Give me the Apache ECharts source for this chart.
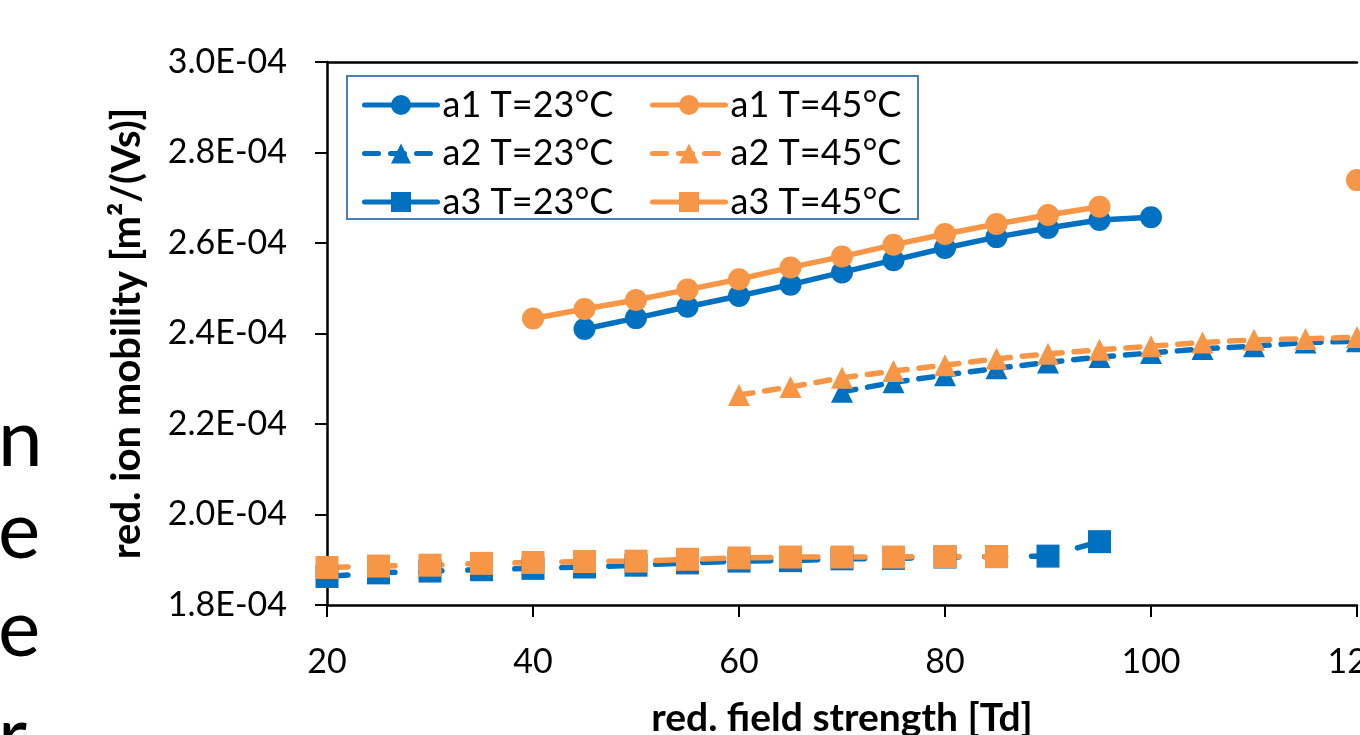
<!DOCTYPE html>
<html>
<head>
<meta charset="utf-8">
<script src="https://cdn.jsdelivr.net/npm/echarts@6/dist/echarts.min.js"></script>
<style>
html,body{margin:0;padding:0;background:#fff;}
#chart{width:1360px;height:735px;}
</style>
</head>
<body>
<div id="chart"></div>
<script>
// Reduced ion mobility values are given in units of 1E-04 m²/(Vs)
const fieldA1_23 = [45,50,55,60,65,70,75,80,85,90,95,100];
const mobA1_23   = [2.410,2.434,2.459,2.483,2.508,2.535,2.562,2.589,2.613,2.633,2.651,2.657];

const fieldA1_45 = [40,45,50,55,60,65,70,75,80,85,90,95,100,105,110,115,120];
const mobA1_45   = [2.433,2.454,2.474,2.497,2.520,2.546,2.570,2.596,2.620,2.642,2.662,2.680,null,null,null,null,2.739];

const fieldA2_23 = [70,75,80,85,90,95,100,105,110,115,120];
const mobA2_23   = [2.271,2.292,2.308,2.323,2.336,2.348,2.357,2.366,2.372,2.380,2.383];

const fieldA2_45 = [60,65,70,75,80,85,90,95,100,105,110,115,120];
const mobA2_45   = [2.264,2.282,2.302,2.317,2.330,2.344,2.355,2.364,2.372,2.380,2.386,2.388,2.392];

const fieldA3_23 = [20,25,30,35,40,45,50,55,60,65,70,75,80,85,90,95];
const mobA3_23   = [1.863,1.871,1.875,1.878,1.881,1.884,1.888,1.893,1.897,1.898,1.902,1.903,1.906,1.907,1.908,1.940];

const fieldA3_45 = [20,25,30,35,40,45,50,55,60,65,70,75,80,85];
const mobA3_45   = [1.883,1.886,1.888,1.892,1.894,1.896,1.897,1.901,1.904,1.906,1.906,1.906,1.907,1.907];

const seriesNames = ['a1 T=23°C','a2 T=23°C','a3 T=23°C','a1 T=45°C','a2 T=45°C','a3 T=45°C'];
const xAxisTitle = 'red. field strength [Td]';
const yAxisTitle = 'red. ion mobility [m²/(Vs)]';
const sideFragments = ['n','e','e','r'];

const BLUE = '#0070C0';
const ORANGE = '#F79646';
const FONT = 'Lato';

function pairs(xs, ys){ return xs.map((x,i)=>[x, ys[i]==null ? '-' : ys[i]]); }

function mk(name, xs, ys, color, symbol, size, dash){
  return {
    name: name, type: 'line', data: pairs(xs, ys),
    symbol: symbol, symbolSize: size, connectNulls: false,
    itemStyle: {color: color},
    lineStyle: {color: color, width: 5.5, type: dash, cap: 'round', join: 'round'},
    emphasis: {disabled: true}
  };
}

const legendCommon = {
  orient: 'vertical', top: 87, padding: 0, itemGap: 12.5,
  itemWidth: 73, itemHeight: 25, selectedMode: false,
  lineStyle: {width: 5, cap: 'round'},
  textStyle: {fontFamily: FONT, fontSize: 36, color: '#000', lineHeight: 32}
};

const chart = echarts.init(document.getElementById('chart'), null, {renderer:'canvas'});
const option = {
  animation: false,
  backgroundColor: '#fff',
  grid: {left: 327, top: 62, right: 3, bottom: 130, containLabel: false, outerBoundsMode: 'none'},
  xAxis: [{
    type: 'value', min: 20, max: 120, interval: 20, position: 'bottom',
    name: xAxisTitle, nameLocation: 'middle', nameGap: 113,
    nameTextStyle: {fontFamily: FONT, fontSize: 39, fontWeight: 'bold', color: '#000', verticalAlign: 'middle'},
    axisLine: {show: true, onZero: false, lineStyle: {color: '#000', width: 2.5}},
    axisTick: {show: true, inside: false, length: 12, lineStyle: {color: '#000', width: 2}},
    axisLabel: {fontFamily: FONT, fontSize: 34, color: '#000', margin: 40, showMaxLabel: true},
    splitLine: {show: false}
  },{
    type: 'value', min: 20, max: 120, interval: 20, position: 'top',
    axisLine: {show: true, onZero: false, lineStyle: {color: '#000', width: 2.5}},
    axisTick: {show: false}, axisLabel: {show: false}, splitLine: {show: false}
  }],
  yAxis: {
    type: 'value', min: 1.8, max: 3.0, interval: 0.2,
    name: yAxisTitle, nameLocation: 'middle', nameGap: 200,
    nameTextStyle: {fontFamily: FONT, fontSize: 40, fontWeight: 'bold', color: '#000', verticalAlign: 'middle'},
    axisLine: {show: true, onZero: false, lineStyle: {color: '#000', width: 2.5}},
    axisTick: {show: true, inside: false, length: 12, lineStyle: {color: '#000', width: 2}},
    axisLabel: {fontFamily: FONT, fontSize: 34, color: '#000', margin: 40,
      formatter: v => v.toFixed(1) + 'E-04'},
    splitLine: {show: false}
  },
  legend: [
    Object.assign({}, legendCommon, {
      left: 362,
      data: [
        {name: seriesNames[0]},
        {name: seriesNames[1]},
        {name: seriesNames[2], lineStyle: {type: 'solid', width: 5}}
      ]
    }),
    Object.assign({}, legendCommon, {
      left: 650,
      data: [
        {name: seriesNames[3]},
        {name: seriesNames[4]},
        {name: seriesNames[5], lineStyle: {type: 'solid', width: 5}}
      ]
    })
  ],
  graphic: [
    {type: 'rect', shape: {x: 347, y: 76, width: 571, height: 143}, z: 0,
     style: {fill: '#fff', stroke: '#4A7EBB', lineWidth: 2}},
    {type: 'text', left: -2, top: 400, style: {text: sideFragments[0], font: '80px Lato', fill: '#000'}},
    {type: 'text', left: -2, top: 492, style: {text: sideFragments[1], font: '80px Lato', fill: '#000'}},
    {type: 'text', left: -2, top: 590, style: {text: sideFragments[2], font: '80px Lato', fill: '#000'}},
    {type: 'text', left: -2, top: 697, style: {text: sideFragments[3], font: '80px Lato', fill: '#000'}}
  ],
  series: [
    mk(seriesNames[0], fieldA1_23, mobA1_23, BLUE, 'circle', 22, 'solid'),
    mk(seriesNames[1], fieldA2_23, mobA2_23, BLUE, 'triangle', [22,22], [14,12]),
    mk(seriesNames[2], fieldA3_23, mobA3_23, BLUE, 'rect', 23, [21,26]),
    mk(seriesNames[3], fieldA1_45, mobA1_45, ORANGE, 'circle', 22, 'solid'),
    mk(seriesNames[4], fieldA2_45, mobA2_45, ORANGE, 'triangle', [22,22], [14,12]),
    mk(seriesNames[5], fieldA3_45, mobA3_45, ORANGE, 'rect', 23, [21,26])
  ]
};
chart.setOption(option);
</script>
</body>
</html>
